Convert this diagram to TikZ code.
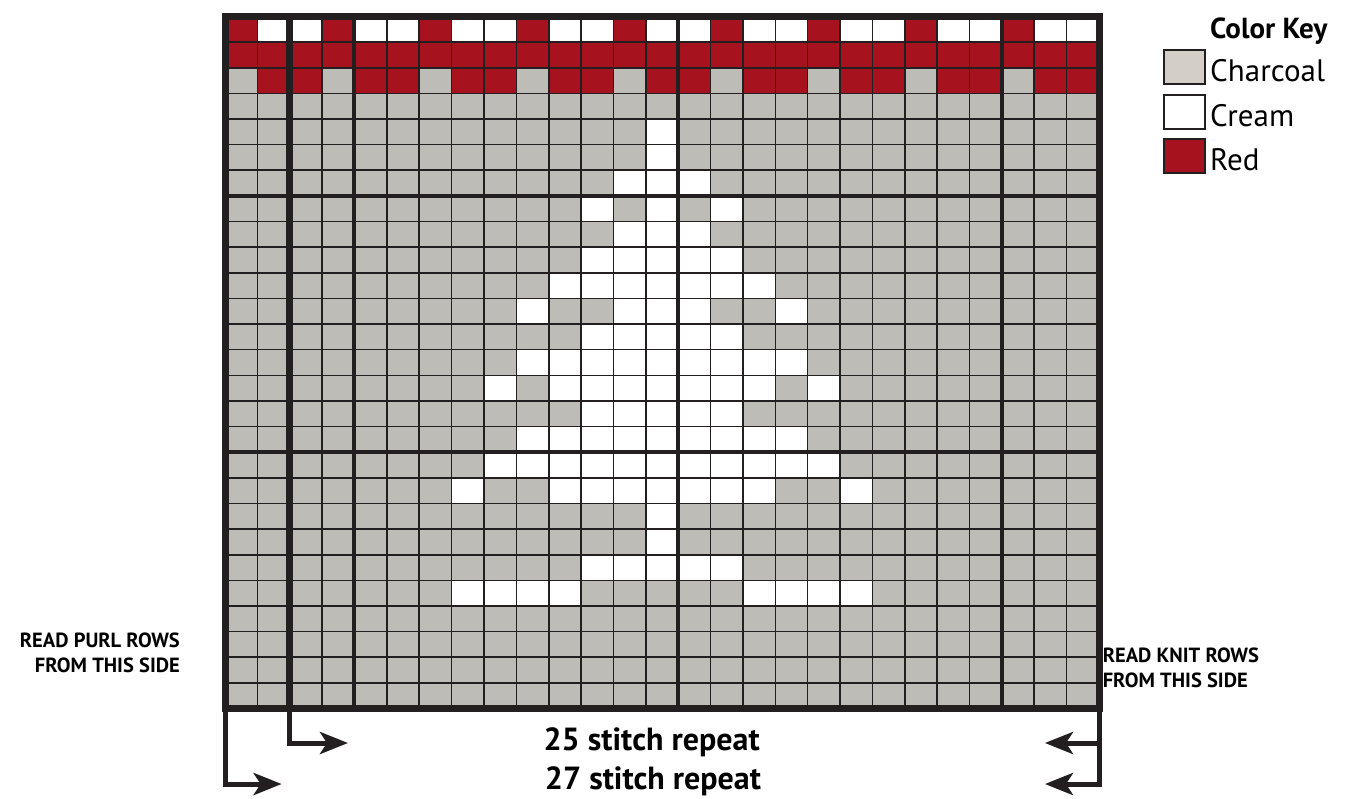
\documentclass[tikz,border=0pt]{standalone}
\usepackage{fontspec}
\setmainfont{PT Sans}
\usetikzlibrary{arrows.meta}
\definecolor{charcoal}{RGB}{189,188,183}
\definecolor{keygray}{RGB}{211,207,199}
\definecolor{cream}{RGB}{255,255,255}
\definecolor{knitred}{RGB}{166,18,30}
\definecolor{ink}{RGB}{35,31,32}

\begin{document}
\begin{tikzpicture}[x=32.37pt, y=25.63pt,
    gridline/.style={draw=ink, line width=1.6pt},
    tenline/.style={draw=ink, line width=4pt},
    borderline/.style={draw=ink, line width=7pt},
    swatch/.style={draw=ink, line width=2pt, minimum width=41pt, minimum height=34pt, inner sep=0pt},
    keylabel/.style={font=\fontsize{31}{34}\selectfont, anchor=base west, inner sep=0pt},
    sidenote/.style={font=\fontsize{20.5}{25}\selectfont\bfseries, inner sep=0pt},
    repeatlabel/.style={font=\fontsize{32}{35}\selectfont\bfseries, anchor=base, inner sep=0pt},
    repeatarrow/.style={draw=ink, line width=5pt, -{Stealth[length=28pt, width=22pt, inset=7pt]}}]
  \useasboundingbox (-6.951,-3.492) rectangle (34.723,27.644);

  % chart background
  \fill[charcoal] (0,0) rectangle (27,27);

  % red and cream border rows
  \fill[knitred] (0,25) rectangle (27,26);
  \foreach \c in {1,...,27} {
    \pgfmathtruncatemacro{\m}{mod(\c,3)}
    \ifnum\m=1
      \fill[knitred] (\c-1,26) rectangle (\c,27);
    \else
      \fill[cream] (\c-1,26) rectangle (\c,27);
      \fill[knitred] (\c-1,24) rectangle (\c,25);
    \fi
  }

  % tree, row from top / first col / last col
  \foreach \r/\a/\b in {5/14/14, 6/14/14, 7/13/15, 8/12/12, 8/14/14, 8/16/16,
      9/13/15, 10/12/16, 11/11/17, 12/10/10, 12/13/15, 12/18/18, 13/12/16,
      14/10/18, 15/9/9, 15/11/17, 15/19/19, 16/12/16, 17/10/18, 18/9/19,
      19/8/8, 19/11/17, 19/20/20, 20/14/14, 21/14/14, 22/12/16, 23/8/11, 23/17/20}
    \fill[cream] (\a-1,27-\r) rectangle (\b,28-\r);

  % grid
  \foreach \i in {1,...,26} {
    \draw[gridline] (\i,0) -- (\i,27);
    \draw[gridline] (0,\i) -- (27,\i);
  }
  \foreach \i in {4,14,24}
    \draw[tenline] (\i,0) -- (\i,27);
  \foreach \j in {10,20}
    \draw[tenline] (0,\j) -- (27,\j);
  \draw[borderline] (2,0) -- (2,27);
  \draw[borderline] (0,0) rectangle (27,27);

  % color key
  \node[font=\fontsize{29}{32}\selectfont\bfseries, anchor=base west, inner sep=0pt] (keytitle) at (30.43,26.15) {Color Key};
  \node[swatch, fill=keygray] (swcharcoal) at (29.64,25.03) {};
  \node[swatch, fill=cream] (swcream) at (29.64,23.29) {};
  \node[swatch, fill=knitred] (swred) at (29.64,21.54) {};
  \node[keylabel] (lblcharcoal) at (30.43,24.45) {Charcoal};
  \node[keylabel] (lblcream) at (30.43,22.70) {Cream};
  \node[keylabel] (lblred) at (30.43,21.01) {Red};

  % side notes
  \node[sidenote, align=right, anchor=north east] (purlnote) at (-1.39,2.946) {READ PURL ROWS\\FROM THIS SIDE};
  \node[sidenote, align=left, anchor=north west] (knitnote) at (27.11,2.36) {READ KNIT ROWS\\FROM THIS SIDE};

  % repeat arrows
  \coordinate (chartsw) at (0,0);
  \coordinate (repstart) at (2,0);
  \coordinate (chartse) at (27,0);
  \coordinate (tip25l) at (3.80,-1.346);
  \coordinate (tip27l) at (1.75,-2.946);
  \coordinate (tip25r) at (25.33,-1.346);
  \coordinate (tip27r) at (25.33,-2.946);
  \draw[repeatarrow] (repstart) |- (tip25l);
  \draw[repeatarrow] (chartsw) |- (tip27l);
  \draw[repeatarrow] (chartse) |- (tip25r);
  \draw[repeatarrow] (chartse) |- (tip27r);

  \node[repeatlabel] (lbl25) at (13.18,-1.619) {25 stitch repeat};
  \node[repeatlabel] (lbl27) at (13.22,-3.16) {27 stitch repeat};
\end{tikzpicture}
\end{document}
